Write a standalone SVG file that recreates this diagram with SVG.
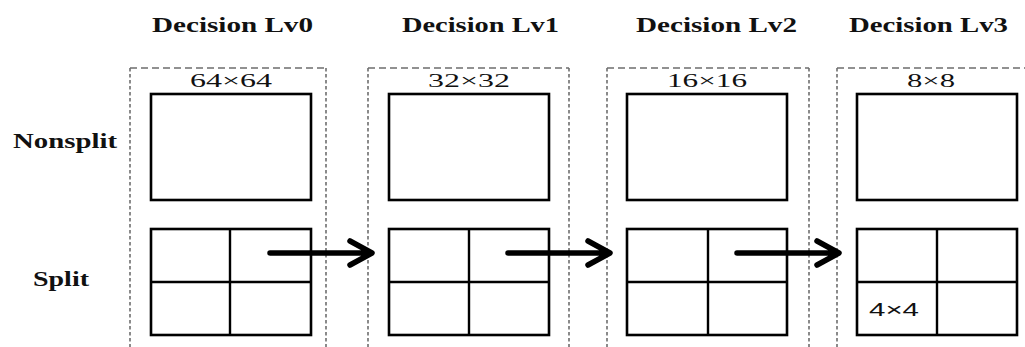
<svg xmlns="http://www.w3.org/2000/svg" width="1025" height="347" viewBox="0 0 1025 347">
<style>
.bg{fill:#fff}
.dh{fill:none;stroke:#6e6e6e;stroke-width:1.6;stroke-dasharray:7 4}
.dv{fill:none;stroke:#6e6e6e;stroke-width:1.6;stroke-dasharray:3.5 2.5}
.box{fill:#fff;stroke:#000;stroke-width:2.6}
.div{fill:none;stroke:#000;stroke-width:2.4}
.title{font-family:"Liberation Serif",serif;font-weight:bold;font-size:21px;fill:#111}
.size{font-family:"Liberation Serif",serif;font-size:19.5px;fill:#111}
.small{font-family:"Liberation Sans",sans-serif;font-size:19px;fill:#111}
.arr{fill:none;stroke:#000;stroke-width:5.5;stroke-linecap:round;stroke-linejoin:round}
</style>
<rect class="bg" x="0" y="0" width="1025" height="347"/>
<g id="row-labels">
<text class="title" x="13" y="148" textLength="104" lengthAdjust="spacingAndGlyphs">Nonsplit</text>
<text class="title" x="33" y="286" textLength="56" lengthAdjust="spacingAndGlyphs">Split</text>
</g>
<g id="lv0">
<text class="title" x="152" y="32" textLength="161" lengthAdjust="spacingAndGlyphs">Decision Lv0</text>
<path class="dh" d="M130 68H326"/>
<path class="dv" d="M130 68V350M326 68V350"/>
<text class="size" x="190" y="87" textLength="82" lengthAdjust="spacingAndGlyphs">64×64</text>
<rect class="box" x="151" y="94" width="160" height="106"/>
<rect class="box" x="151" y="229" width="160" height="106"/>
<path class="div" d="M230 229V335M151 282H311"/>
</g>
<g id="lv1">
<text class="title" x="402" y="32" textLength="157" lengthAdjust="spacingAndGlyphs">Decision Lv1</text>
<path class="dh" d="M368 68H569"/>
<path class="dv" d="M368 68V350M569 68V350"/>
<text class="size" x="428" y="87" textLength="82" lengthAdjust="spacingAndGlyphs">32×32</text>
<rect class="box" x="389" y="94" width="160" height="106"/>
<rect class="box" x="389" y="229" width="160" height="106"/>
<path class="div" d="M469 229V335M389 282H549"/>
</g>
<g id="lv2">
<text class="title" x="636" y="32" textLength="161" lengthAdjust="spacingAndGlyphs">Decision Lv2</text>
<path class="dh" d="M607 68H809"/>
<path class="dv" d="M607 68V350M809 68V350"/>
<text class="size" x="667" y="87" textLength="80" lengthAdjust="spacingAndGlyphs">16×16</text>
<rect class="box" x="627" y="94" width="160" height="106"/>
<rect class="box" x="627" y="229" width="160" height="106"/>
<path class="div" d="M708 229V335M627 282H787"/>
</g>
<g id="lv3">
<text class="title" x="849" y="32" textLength="159" lengthAdjust="spacingAndGlyphs">Decision Lv3</text>
<path class="dh" d="M837 68H1040"/>
<path class="dv" d="M837 68V350"/>
<text class="size" x="907" y="87" textLength="48" lengthAdjust="spacingAndGlyphs">8×8</text>
<rect class="box" x="857" y="94" width="160" height="106"/>
<rect class="box" x="857" y="229" width="160" height="106"/>
<path class="div" d="M937 229V335M857 282H1017"/>
<text class="small" x="869" y="316" textLength="50" lengthAdjust="spacingAndGlyphs">4×4</text>
</g>
<g id="connectors">
<path class="arr" d="M270 253H371M350 241L372 253L350 265"/>
<path class="arr" d="M508 253H609M588 241L610 253L588 265"/>
<path class="arr" d="M737 253H838M817 241L839 253L817 265"/>
</g>
</svg>
